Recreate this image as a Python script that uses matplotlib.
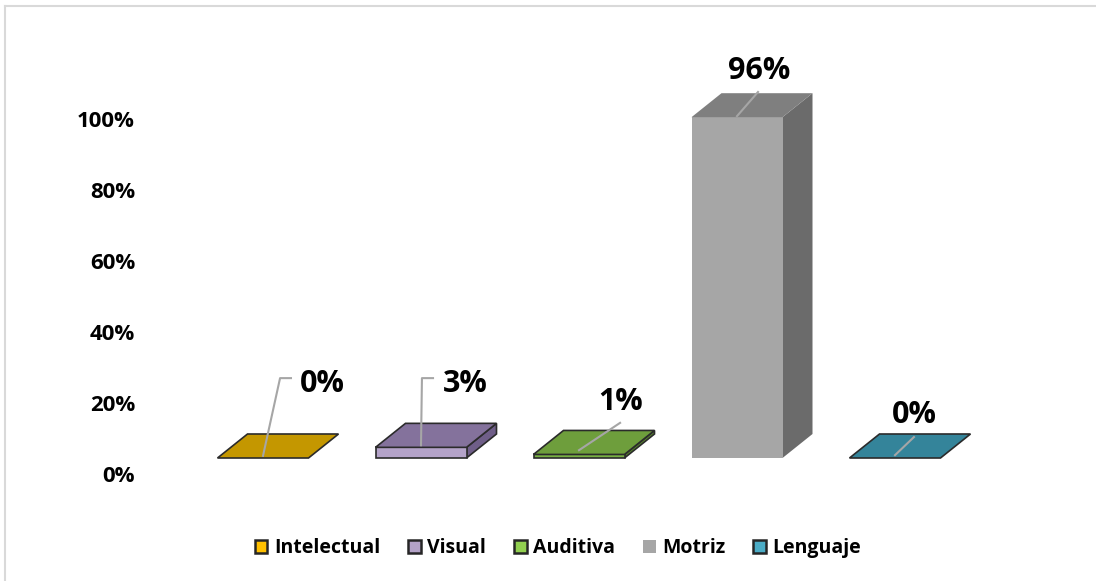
import matplotlib
matplotlib.use("Agg")
import matplotlib.pyplot as plt
from matplotlib.patches import Polygon, Patch
from matplotlib.lines import Line2D

# --- data -------------------------------------------------------------
categories = ["Intelectual", "Visual", "Auditiva", "Motriz", "Lenguaje"]
values = [0, 3, 1, 96, 0]
value_labels = ["0%", "3%", "1%", "96%", "0%"]
tick_values = [0, 20, 40, 60, 80, 100]
tick_labels = ["0%", "20%", "40%", "60%", "80%", "100%"]

# --- styling ------------------------------------------------------------
legend_colors = ["#ffc000", "#b3a2c7", "#92d050", "#a6a6a6", "#4bacc6"]
front_colors = ["#c99a00", "#b4a3c9", "#78b043", "#a6a6a6", "#31849b"]
top_colors = ["#c49700", "#84729c", "#6e9e3c", "#7f7f7f", "#34849a"]
side_colors = ["#9a7600", "#6f5e88", "#55802c", "#6b6b6b", "#24667a"]
edge_colors = ["#2b2b2b", "#2b2b2b", "#2b2b2b", "none", "#2b2b2b"]
leader_color = "#a6a6a6"
FONT = ["Open Sans", "DejaVu Sans"]

W, H = 1096, 581
fig = plt.figure(figsize=(W / 100, H / 100), dpi=100)
ax = fig.add_axes([0, 0, 1, 1])

# axis mapping: category index horizontally, percent vertically
px_per_cat, px_per_pct = 158.0, 3.55
x0_px, y0_px = 263.0, 458.0
ax.set_xlim(-x0_px / px_per_cat, (W - x0_px) / px_per_cat)
ax.set_ylim(-(H - y0_px) / px_per_pct, y0_px / px_per_pct)
ax.axis("off")

bar_w = 91 / px_per_cat
dx = 30 / px_per_cat
dy = 24 / px_per_pct

for i, v in enumerate(values):
    xl, xr = i - bar_w / 2, i + bar_w / 2
    ec = edge_colors[i]
    lw = 1.2 if ec != "none" else 0
    if v > 0:
        ax.add_patch(Polygon([(xr, 0), (xr + dx, dy), (xr + dx, v + dy), (xr, v)],
                             closed=True, fc=side_colors[i], ec=ec, lw=lw, zorder=2))
        ax.add_patch(Polygon([(xl, 0), (xr, 0), (xr, v), (xl, v)],
                             closed=True, fc=front_colors[i], ec=ec, lw=lw, zorder=2))
    ax.add_patch(Polygon([(xl, v), (xr, v), (xr + dx, v + dy), (xl + dx, v + dy)],
                         closed=True, fc=top_colors[i], ec=ec, lw=lw, zorder=3))

# leader lines (relative to bar centre / value) and label anchors
leaders = [
    [(0.0, 0.6), (0.108, 22.5), (0.177, 22.5)],
    [(0.0, 3.6), (0.006, 22.5), (0.076, 22.5)],
    [(0.0, 2.2), (0.26, 9.9)],
    [(0.0, 96.3), (0.133, 103.1)],
    [(0.0, 0.8), (0.12, 5.9)],
]
label_pos = [(0.373, 18.6), (0.278, 18.6), (0.266, 13.5), (0.139, 106.8), (0.12, 9.9)]

for i, v in enumerate(values):
    xs = [i + p[0] for p in leaders[i]]
    ys = [p[1] for p in leaders[i]]
    ax.add_line(Line2D(xs, ys, color=leader_color, lw=1.5, zorder=4))
    lx, ly = label_pos[i]
    ax.text(i + lx, ly, value_labels[i], ha="center", va="baseline",
            fontsize=22, fontweight="bold", family=FONT, color="#000000", zorder=5)

# value axis labels
tick_x = (135 - x0_px) / px_per_cat
for tv, tl in zip(tick_values, tick_labels):
    ax.text(tick_x, tv - 6.8, tl, ha="right", va="baseline",
            fontsize=16, fontweight="bold", family=FONT, color="#000000")

# legend
handles = [Patch(facecolor=c, edgecolor=("#262626" if c != "#a6a6a6" else "none"), lw=1.8)
           for c in legend_colors]
fig.legend(handles, categories, loc="center", ncol=5,
           bbox_to_anchor=(558 / W, 1 - 548 / H), frameon=False,
           prop={"family": FONT, "weight": "bold", "size": 14},
           handlelength=0.66, handleheight=0.66, handletextpad=0.34,
           columnspacing=1.42, borderaxespad=0, borderpad=0)

# outer frame (top and left edges)
fig.add_artist(Line2D([5 / W, 1], [1 - 6 / H, 1 - 6 / H], transform=fig.transFigure,
                      color="#d9d9d9", lw=1.5))
fig.add_artist(Line2D([5 / W, 5 / W], [0, 1 - 6 / H], transform=fig.transFigure,
                      color="#d9d9d9", lw=1.5))

fig.savefig("out.png", dpi=100, facecolor="white")
